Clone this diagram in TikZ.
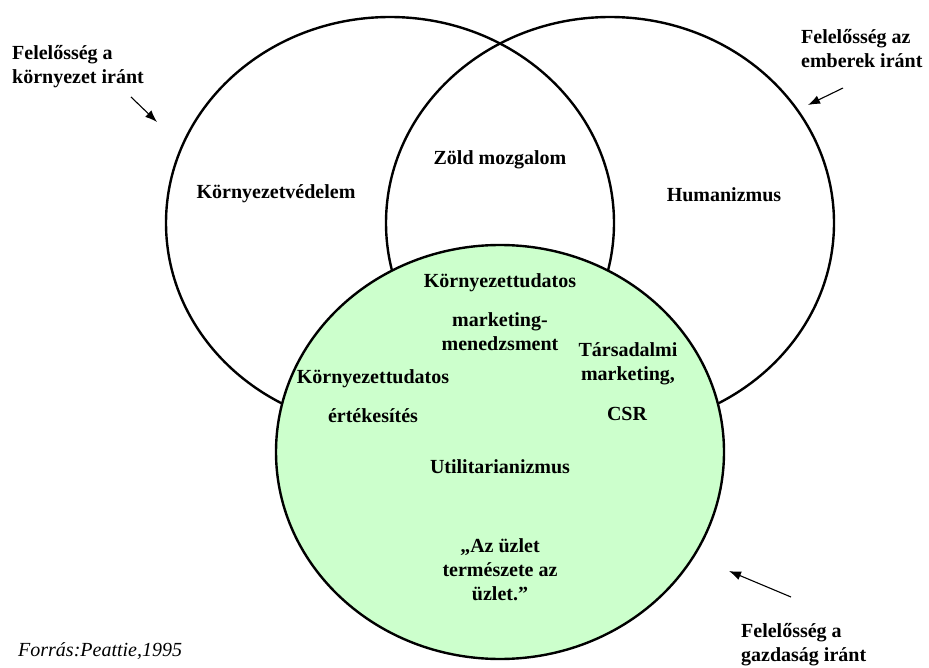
\documentclass[tikz,border=0pt]{standalone}
\usepackage{fontspec}
\setmainfont{Liberation Serif}
\usetikzlibrary{arrows.meta}
\definecolor{lightgreen}{HTML}{CCFFCC}
\tikzset{
  ring/.style={line width=2.4pt, draw=black},
  txt/.style={font=\fontsize{20}{24}\selectfont\bfseries, inner sep=0pt, align=center},
  side/.style={font=\fontsize{20}{24}\selectfont\bfseries, inner sep=0pt, align=left, anchor=west},
  pointer/.style={line width=1.1pt, -{Latex[length=12pt,width=9pt]}}
}
\begin{document}
\begin{tikzpicture}[x=1pt,y=1pt]
\useasboundingbox (0,0) rectangle (929,-668);
% circles
\draw[ring] (390,-223) ellipse [x radius=224pt, y radius=206pt];
\draw[ring] (610,-223) ellipse [x radius=224pt, y radius=206pt];
\draw[ring, fill=lightgreen] (500,-452) ellipse [x radius=224pt, y radius=207pt];
% texts inside
\node[txt] (kv) at (276,-194) {Környezetvédelem};
\node[txt] (zm) at (500,-160) {Zöld mozgalom};
\node[txt] (hu) at (724,-195) {Humanizmus};
\node[txt] (kt1) at (500,-283) {Környezettudatos};
\node[txt] (mm) at (500,-332) {marketing-\\menedzsment};
\node[txt] (kt2) at (373,-379) {Környezettudatos};
\node[txt] (ert) at (373,-416) {értékesítés};
\node[txt] (tm) at (628,-364) {Társadalmi\\marketing,};
\node[txt] (csr) at (627,-414) {CSR};
\node[txt] (ut) at (500,-467) {Utilitarianizmus};
\node[txt] (uz) at (500,-570) {„Az üzlet\\természete az\\üzlet.”};
% outside labels
\node[side] (lk) at (12,-67) {Felelősség a\\környezet iránt};
\node[side] (le) at (801,-49) {Felelősség az\\emberek iránt};
\node[side] (lg) at (741,-645) {Felelősség a\\gazdaság iránt};
\node[inner sep=0pt, anchor=west, font=\fontsize{20}{24}\selectfont\itshape] (src) at (18,-651) {Forrás:Peattie,1995};
% arrows
\coordinate (a1s) at (131,-97);
\coordinate (a1e) at (157,-122);
\coordinate (a2s) at (843,-88);
\coordinate (a2e) at (808,-105);
\coordinate (a3s) at (791,-597);
\coordinate (a3e) at (729,-571);
\draw[pointer] (a1s) -- (a1e);
\draw[pointer] (a2s) -- (a2e);
\draw[pointer] (a3s) -- (a3e);
\end{tikzpicture}
\end{document}
